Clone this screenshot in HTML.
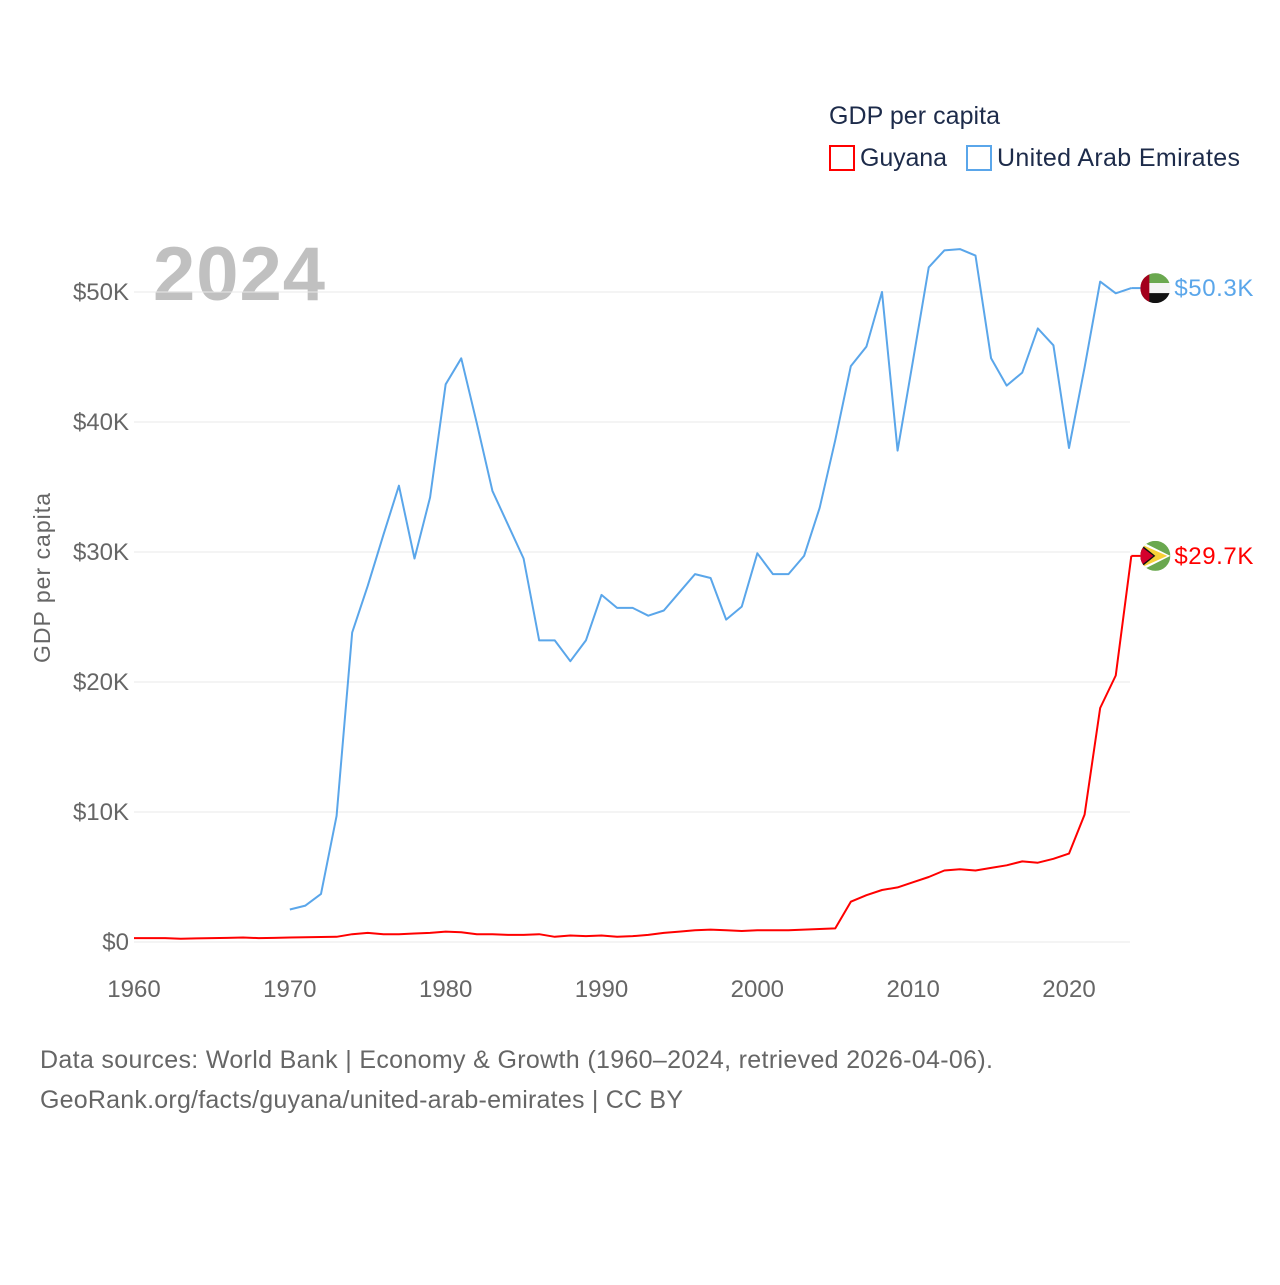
<!DOCTYPE html>
<html><head><meta charset="utf-8"><style>
body{margin:0;background:#fff;font-family:"Liberation Sans",sans-serif;}
svg text{font-family:"Liberation Sans",sans-serif;}
</style></head><body>
<svg id="chart" width="1280" height="1280" xmlns="http://www.w3.org/2000/svg">
<text x="829" y="124" font-size="25" fill="#1d2b4a" textLength="171">GDP per capita</text>
<g><rect x="830" y="146" width="24" height="24" fill="none" stroke="#ff0000" stroke-width="2"/><text x="860" y="166" font-size="25" fill="#1d2b4a" textLength="87">Guyana</text></g>
<g><rect x="967" y="146" width="24" height="24" fill="none" stroke="#5aa6ea" stroke-width="2"/><text x="997" y="166" font-size="25" fill="#1d2b4a" textLength="243">United Arab Emirates</text></g>
<text x="153" y="300" font-size="76" font-weight="bold" fill="#c0c0c0" textLength="172">2024</text>
<text transform="translate(50,578) rotate(-90)" text-anchor="middle" font-size="23" fill="#666" textLength="170">GDP per capita</text>
<g id="grid"></g><g id="yticks"></g><g id="xticks"></g><g id="lines"></g><g id="ends"></g>
<text x="40" y="1068" font-size="25" fill="#666" textLength="953">Data sources: World Bank | Economy &amp; Growth (1960–2024, retrieved 2026-04-06).</text>
<text x="40" y="1108" font-size="25" fill="#666" textLength="643">GeoRank.org/facts/guyana/united-arab-emirates | CC BY</text>
</svg>
<script>
const yTicks=[0,10,20,30,40,50];
const yTickLabels=["$0","$10K","$20K","$30K","$40K","$50K"];
const xTicks=[1960,1970,1980,1990,2000,2010,2020];
const guyanaYears=[1960,1961,1962,1963,1964,1965,1966,1967,1968,1969,1970,1971,1972,1973,1974,1975,1976,1977,1978,1979,1980,1981,1982,1983,1984,1985,1986,1987,1988,1989,1990,1991,1992,1993,1994,1995,1996,1997,1998,1999,2000,2001,2002,2003,2004,2005,2006,2007,2008,2009,2010,2011,2012,2013,2014,2015,2016,2017,2018,2019,2020,2021,2022,2023,2024];
const guyanaValues=[0.3,0.3,0.3,0.25,0.28,0.3,0.32,0.35,0.3,0.32,0.35,0.37,0.38,0.4,0.6,0.7,0.6,0.6,0.65,0.7,0.8,0.75,0.6,0.6,0.55,0.55,0.6,0.4,0.5,0.45,0.5,0.4,0.45,0.55,0.7,0.8,0.9,0.95,0.9,0.85,0.9,0.9,0.9,0.95,1.0,1.05,3.1,3.6,4.0,4.2,4.6,5.0,5.5,5.6,5.5,5.7,5.9,6.2,6.1,6.4,6.8,9.8,18.0,20.5,29.7];
const uaeYears=[1970,1971,1972,1973,1974,1975,1976,1977,1978,1979,1980,1981,1982,1983,1984,1985,1986,1987,1988,1989,1990,1991,1992,1993,1994,1995,1996,1997,1998,1999,2000,2001,2002,2003,2004,2005,2006,2007,2008,2009,2010,2011,2012,2013,2014,2015,2016,2017,2018,2019,2020,2021,2022,2023,2024];
const uaeValues=[2.5,2.8,3.7,9.7,23.8,27.4,31.3,35.1,29.5,34.2,42.9,44.9,39.9,34.7,32.1,29.5,23.2,23.2,21.6,23.2,26.7,25.7,25.7,25.1,25.5,26.9,28.3,28.0,24.8,25.8,29.9,28.3,28.3,29.7,33.4,38.6,44.3,45.8,50.0,37.8,44.8,51.9,53.2,53.3,52.8,44.9,42.8,43.8,47.2,45.9,38.0,44.2,50.8,49.9,50.3];
const NS="http://www.w3.org/2000/svg";
const X=y=>134+(y-1960)*935/60;
const Y=v=>942-v*13;
function mk(t,a,p){const e=document.createElementNS(NS,t);for(const k in a)e.setAttribute(k,a[k]);document.getElementById(p).appendChild(e);return e;}
yTicks.forEach((v,i)=>{
 const l=mk('line',{x1:134,x2:1130,y1:Y(v),y2:Y(v),stroke:'#e8e8e8','stroke-width':1},'grid');
 
 
 const t=mk('text',{x:129,y:Y(v)+8,'text-anchor':'end','font-size':24,fill:'#666'},'yticks');
 t.textContent=yTickLabels[i];
 
 
});
xTicks.forEach(v=>{
 const t=mk('text',{x:X(v),y:997,'text-anchor':'middle','font-size':24,fill:'#666'},'xticks');
 t.textContent=v;
 
 
});
function line(ys,vs,c,name){
 const p=mk('polyline',{points:ys.map((y,i)=>X(y)+','+Y(vs[i])).join(' '),fill:'none',stroke:c,'stroke-width':2,'stroke-linejoin':'round'},'lines');
 
 
}
line(uaeYears,uaeValues,'#5aa6ea','uae-line');
line(guyanaYears,guyanaValues,'#ff0000','guyana-line');
function end(ys,vs,c,name,flag){
 const lx=X(ys[ys.length-1]),ly=Y(vs[vs.length-1]);
 mk('line',{x1:lx,x2:lx+10,y1:ly,y2:ly,stroke:c,'stroke-width':2},'ends');
 const cx=lx+24;
 const g=mk('g',{},'ends');
 
 
 const cid='c'+name;
 const cp=document.createElementNS(NS,'clipPath');cp.setAttribute('id',cid);
 const cc=document.createElementNS(NS,'circle');cc.setAttribute('cx',cx);cc.setAttribute('cy',ly);cc.setAttribute('r',15);cp.appendChild(cc);g.appendChild(cp);
 const inner=document.createElementNS(NS,'g');inner.setAttribute('clip-path','url(#'+cid+')');g.appendChild(inner);
 const add=(t,a)=>{const e=document.createElementNS(NS,t);for(const k in a)e.setAttribute(k,a[k]);inner.appendChild(e);};
 if(flag==='uae'){
  add('rect',{x:cx-15,y:ly-15,width:30,height:10,fill:'#6aa84f'});
  add('rect',{x:cx-15,y:ly-5,width:30,height:10,fill:'#f4f4f4'});
  add('rect',{x:cx-15,y:ly+5,width:30,height:10,fill:'#111'});
  add('rect',{x:cx-15,y:ly-15,width:9,height:30,fill:'#a3001c'});
 }else{
  add('rect',{x:cx-15,y:ly-15,width:30,height:30,fill:'#6aa84f'});
  add('polygon',{points:`${cx-15},${ly-15} ${cx+15},${ly} ${cx-15},${ly+15}`,fill:'#fff'});
  add('polygon',{points:`${cx-15},${ly-12} ${cx+12},${ly} ${cx-15},${ly+12}`,fill:'#f7d138'});
  add('polygon',{points:`${cx-15},${ly-12} ${cx},${ly} ${cx-15},${ly+12}`,fill:'#111'});
  add('polygon',{points:`${cx-15},${ly-10} ${cx-2},${ly} ${cx-15},${ly+10}`,fill:'#d3002c'});
 }
 const t=mk('text',{x:lx+43,y:ly+8,'font-size':24,fill:c,textLength:79},'ends');
 t.textContent='$'+vs[vs.length-1].toFixed(1)+'K';
 
 
}
end(uaeYears,uaeValues,'#5aa6ea','uae','uae');
end(guyanaYears,guyanaValues,'#ff0000','guyana','guy');
</script>
</body></html>
